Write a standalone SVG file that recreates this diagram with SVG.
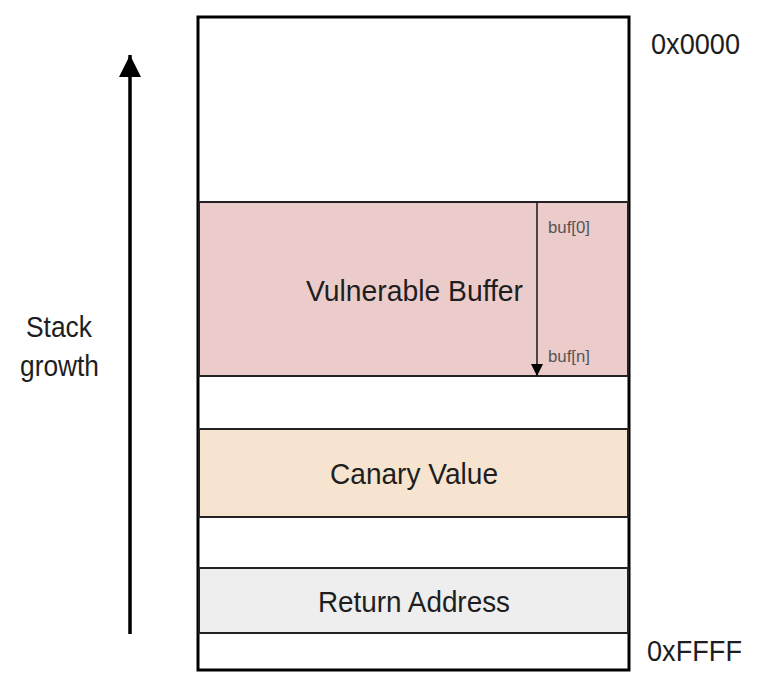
<svg xmlns="http://www.w3.org/2000/svg" width="764" height="694" viewBox="0 0 764 694">
<defs>
<style>
.lbl{font-family:"Liberation Sans",Arial,sans-serif;font-size:29px;fill:#1e1e1e;}
.small{font-family:"Liberation Sans",Arial,sans-serif;font-size:16px;fill:#555;}
.sep{stroke:#222;stroke-width:2;}
</style>
<marker id="headS" viewBox="0 0 10 10" refX="10" refY="5" markerWidth="14" markerHeight="12" markerUnits="userSpaceOnUse" orient="auto"><path d="M0,0 L10,5 L0,10 z" fill="#000"/></marker>
<marker id="headL" viewBox="0 0 10 10" refX="10" refY="5" markerWidth="36" markerHeight="22" markerUnits="userSpaceOnUse" orient="auto"><path d="M0,0 L10,5 L0,10 z" fill="#000"/></marker>
</defs>
<rect width="764" height="694" fill="#fff"/>
<g id="stack-frame">
<rect x="198" y="17" width="431" height="653" fill="#fff" stroke="#000" stroke-width="3"/>
</g>
<g id="vulnerable-buffer">
<rect x="199" y="202" width="429" height="174" fill="#eccccb" class="sep"/>
<text class="lbl" x="306" y="301" textLength="217" lengthAdjust="spacingAndGlyphs">Vulnerable Buffer</text>
<text class="small" x="548" y="233" textLength="42" lengthAdjust="spacingAndGlyphs">buf[0]</text>
<text class="small" x="548" y="362" textLength="42" lengthAdjust="spacingAndGlyphs">buf[n]</text>
</g>
<g id="canary-value">
<rect x="199" y="429" width="429" height="88" fill="#f7e4d0" class="sep"/>
<text class="lbl" x="330" y="484" textLength="168" lengthAdjust="spacingAndGlyphs">Canary Value</text>
</g>
<g id="return-address">
<rect x="199" y="568" width="429" height="65" fill="#eeeeee" class="sep"/>
<text class="lbl" x="318" y="612" textLength="192" lengthAdjust="spacingAndGlyphs">Return Address</text>
</g>
<g id="addresses">
<text class="lbl" x="651" y="54" textLength="89" lengthAdjust="spacingAndGlyphs">0x0000</text>
<text class="lbl" x="647" y="661" textLength="95" lengthAdjust="spacingAndGlyphs">0xFFFF</text>
</g>
<g id="stack-growth-label">
<text class="lbl" x="26" y="337" textLength="66" lengthAdjust="spacingAndGlyphs">Stack</text>
<text class="lbl" x="20" y="376" textLength="79" lengthAdjust="spacingAndGlyphs">growth</text>
</g>
<g id="connectors">
<line x1="537" y1="202" x2="537" y2="376" stroke="#222" stroke-width="1.6" marker-end="url(#headS)"/>
<line x1="130" y1="634" x2="130" y2="55" stroke="#000" stroke-width="3.5" marker-end="url(#headL)"/>
</g>
</svg>
